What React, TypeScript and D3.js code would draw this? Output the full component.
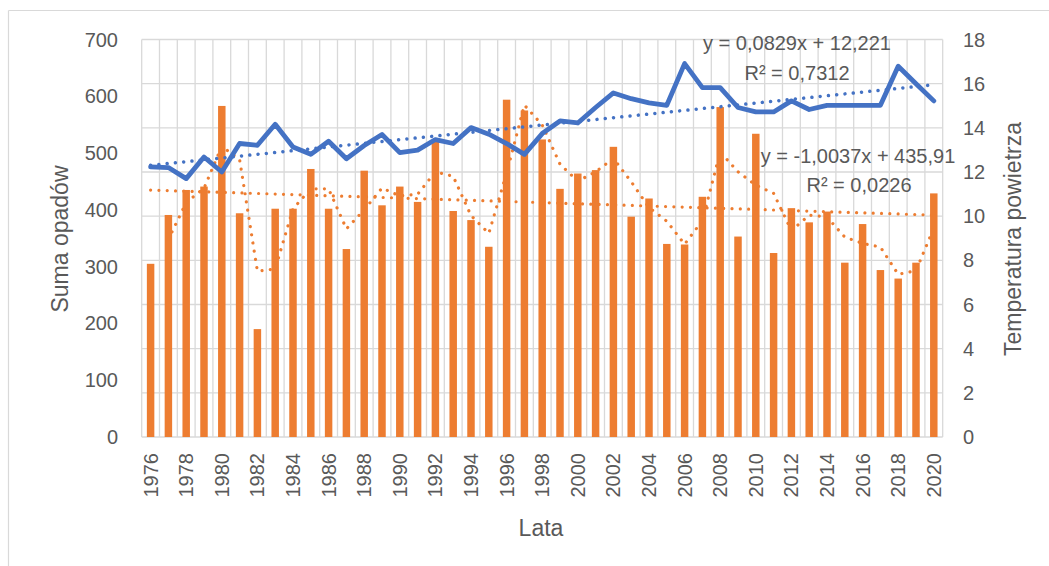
import React from "react";
import * as d3 from "d3";

const years: number[] = [
  1976, 1977, 1978, 1979, 1980, 1981, 1982, 1983, 1984, 1985, 1986, 1987, 1988, 1989, 1990,
  1991, 1992, 1993, 1994, 1995, 1996, 1997, 1998, 1999, 2000, 2001, 2002, 2003, 2004, 2005,
  2006, 2007, 2008, 2009, 2010, 2011, 2012, 2013, 2014, 2015, 2016, 2017, 2018, 2019, 2020,
];

const precipitation: number[] = [
  305, 391, 435, 441, 583, 394, 190, 402, 402, 472, 402, 331, 469, 408, 441,
  414, 520, 398, 382, 335, 594, 575, 524, 437, 464, 470, 511, 388, 420, 340,
  339, 423, 581, 353, 534, 324, 403, 378, 397, 307, 375, 294, 279, 307, 429,
];

const temperature: number[] = [
  12.23, 12.2, 11.7, 12.68, 12.0, 13.29, 13.21, 14.16, 13.13, 12.8, 13.39, 12.6, 13.2, 13.7, 12.88,
  12.99, 13.47, 13.29, 14.01, 13.71, 13.29, 12.8, 13.74, 14.31, 14.22, 14.92, 15.58, 15.32, 15.13, 15.02,
  16.91, 15.82, 15.82, 14.92, 14.72, 14.72, 15.22, 14.83, 15.02, 15.02, 15.02, 15.02, 16.79, 16.0, 15.22,
];

const leftTicks: number[] = [0, 100, 200, 300, 400, 500, 600, 700];
const rightTicks: number[] = [0, 2, 4, 6, 8, 10, 12, 14, 16, 18];

const tempTrend = { slope: 0.0829, intercept: 12.221, label: "y = 0,0829x + 12,221", r2: "R² = 0,7312" };
const precTrend = { slope: -1.0037, intercept: 435.91, label: "y = -1,0037x + 435,91", r2: "R² = 0,0226" };

const TEXT = "#595959";
const GRID = "#d9d9d9";
const ORANGE = "#ED7D31";
const BLUE = "#4472C4";
const FONT = "'Liberation Sans', Arial, sans-serif";

export default function App() {
  const W = 1049, H = 566;
  const left = 141.7, right = 942.7, top = 39.5, bottom = 437;

  const x = d3.scaleBand<number>().domain(years).range([left, right]).padding(0);
  const yL = d3.scaleLinear().domain([0, 700]).range([bottom, top]);
  const yR = d3.scaleLinear().domain([0, 18]).range([bottom, top]);
  const cx = (yr: number) => (x(yr) as number) + x.bandwidth() / 2;
  const barW = x.bandwidth() * 0.42;

  const tempLine = d3.line<number>()
    .x((_, i) => cx(years[i]))
    .y((d) => yR(d));

  const movAvg: [number, number][] = precipitation.slice(1).map((v, i) => [
    cx(years[i + 1]),
    yL((v + precipitation[i]) / 2),
  ]);
  const ptLine = d3.line<[number, number]>();

  const n = years.length;
  const tempTrendPts: [number, number][] = [
    [cx(years[0]), yR(tempTrend.slope * 1 + tempTrend.intercept)],
    [cx(years[n - 1]), yR(tempTrend.slope * n + tempTrend.intercept)],
  ];
  const precTrendPts: [number, number][] = [
    [cx(years[0]), yL(precTrend.slope * 1 + precTrend.intercept)],
    [cx(years[n - 1]), yL(precTrend.slope * n + precTrend.intercept)],
  ];

  const dotted = { strokeDasharray: "0.01 8.3", strokeLinecap: "round" as const, fill: "none" };

  return (
    <svg width={W} height={H} style={{ position: "absolute", left: 0, top: 0, background: "#fff" }} fontFamily={FONT}>
      <rect x={0} y={0} width={W} height={H} fill="#fff" />
      {/* chart border */}
      <line x1={8.5} y1={10.5} x2={W} y2={10.5} stroke={GRID} strokeWidth={1.2} />
      <line x1={8.5} y1={10.5} x2={8.5} y2={H} stroke={GRID} strokeWidth={1.2} />

      {/* horizontal gridlines (right axis) */}
      {rightTicks.map((t) => (
        <line key={"h" + t} x1={left} x2={right} y1={yR(t)} y2={yR(t)} stroke={GRID} strokeWidth={1.3} />
      ))}
      {/* vertical gridlines */}
      {years.map((yr) => (
        <line key={"v" + yr} x1={x(yr)} x2={x(yr)} y1={top} y2={bottom} stroke={GRID} strokeWidth={1.3} />
      ))}
      <line x1={right} x2={right} y1={top} y2={bottom} stroke={GRID} strokeWidth={1.3} />

      {/* bars */}
      {precipitation.map((v, i) => (
        <rect key={"b" + i} x={cx(years[i]) - barW / 2} y={yL(v)} width={barW} height={yL(0) - yL(v)} fill={ORANGE} />
      ))}

      {/* precipitation trendlines */}
      <path d={ptLine(precTrendPts) || ""} stroke={ORANGE} strokeWidth={3.2} {...dotted} />
      <path d={ptLine(movAvg) || ""} stroke={ORANGE} strokeWidth={3.2} {...dotted} />

      {/* temperature line */}
      <path d={tempLine(temperature) || ""} stroke={BLUE} strokeWidth={4.8} fill="none" strokeLinejoin="round" strokeLinecap="round" />
      <path d={ptLine(tempTrendPts) || ""} stroke={BLUE} strokeWidth={3.5} {...dotted} />

      {/* left axis labels */}
      {leftTicks.map((t) => (
        <text key={"l" + t} x={118} y={yL(t)} dy="0.35em" textAnchor="end" fontSize={20} fill={TEXT}>{t}</text>
      ))}
      {/* right axis labels */}
      {rightTicks.map((t) => (
        <text key={"r" + t} x={963} y={yR(t)} dy="0.35em" textAnchor="start" fontSize={20} fill={TEXT}>{t}</text>
      ))}
      {/* x labels */}
      {years.filter((_, i) => i % 2 === 0).map((yr) => (
        <text key={"x" + yr} transform={`translate(${cx(yr)},453) rotate(-90)`} dy="0.35em" textAnchor="end" fontSize={20} fill={TEXT}>{yr}</text>
      ))}

      {/* axis titles */}
      <text transform={`translate(60,239) rotate(-90)`} dy="0.35em" textAnchor="middle" fontSize={23} fill={TEXT}>Suma opadów</text>
      <text transform={`translate(1013,239) rotate(-90)`} dy="0.35em" textAnchor="middle" fontSize={23} fill={TEXT}>Temperatura powietrza</text>
      <text x={541} y={536} textAnchor="middle" fontSize={23} fill={TEXT}>Lata</text>

      {/* trend equations */}
      <text x={797} y={50} textAnchor="middle" fontSize={20} fill={TEXT}>{tempTrend.label}</text>
      <text x={797} y={80} textAnchor="middle" fontSize={20} fill={TEXT}>{tempTrend.r2}</text>
      <text x={858} y={163} textAnchor="middle" fontSize={20} fill={TEXT}>{precTrend.label}</text>
      <text x={859} y={192} textAnchor="middle" fontSize={20} fill={TEXT}>{precTrend.r2}</text>
    </svg>
  );
}
